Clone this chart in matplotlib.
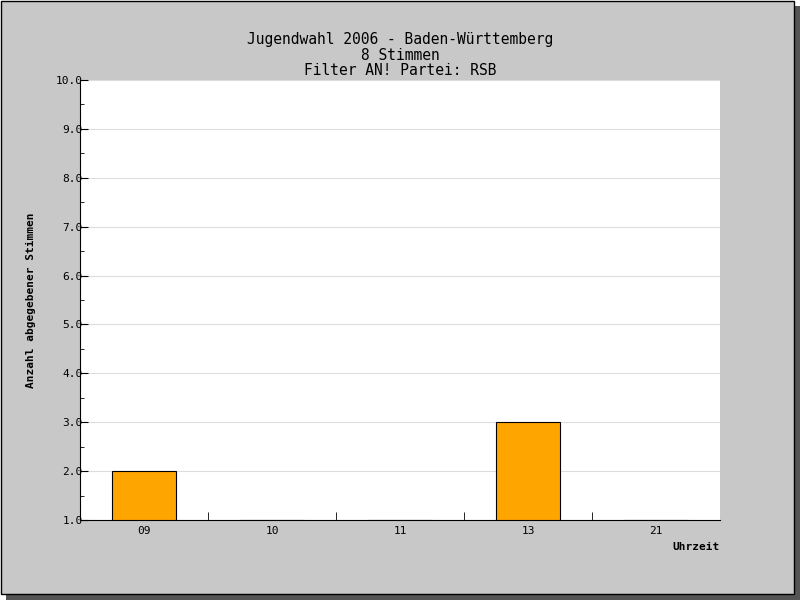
import matplotlib
matplotlib.use("Agg")
import matplotlib.pyplot as plt
from matplotlib.patches import Rectangle

hours = ["09", "10", "11", "13", "21"]
votes = [2, 1, 1, 3, 1]
y_ticks = [1.0, 2.0, 3.0, 4.0, 5.0, 6.0, 7.0, 8.0, 9.0, 10.0]

plt.rcParams["font.family"] = ["DejaVu Sans Mono"]
fig = plt.figure(figsize=(8, 6), dpi=100)
fig.patch.set_facecolor("white")

# frame with shadow
fig.patches.append(Rectangle((6 / 800, 0), 794 / 800, 594 / 600, transform=fig.transFigure,
                             facecolor="#555555", edgecolor="none", zorder=-3))
fig.patches.append(Rectangle((0.5 / 800, 6 / 600), 793 / 800, 593 / 600, transform=fig.transFigure,
                             facecolor="#c8c8c8", edgecolor="black", linewidth=1, zorder=-2))

ax = fig.add_axes([80 / 800, 80 / 600, 640 / 800, 440 / 600])
ax.set_facecolor("white")
x = list(range(len(hours)))
ax.bar(x, [v - 1 for v in votes], bottom=1, width=0.5, color="#ffa500",
       edgecolor="black", linewidth=0.8, zorder=3)
ax.set_xlim(-0.5, len(hours) - 0.5)
ax.set_ylim(1.0, 10.0)
ax.set_yticks(y_ticks)
ax.set_yticklabels([f"{t:.1f}" for t in y_ticks], fontsize=8)
ax.set_yticks([t + 0.5 for t in y_ticks[:-1]], minor=True)
ax.grid(axis="y", color="#dddddd", linewidth=0.8, zorder=0)
ax.set_xticks(x)
ax.set_xticklabels(hours, fontsize=8)
ax.set_xticks([i + 0.5 for i in x[:-1]], minor=True)
ax.tick_params(axis="x", which="major", length=0, pad=4)
ax.tick_params(axis="x", which="minor", direction="in", length=6)
ax.tick_params(axis="y", which="major", direction="in", length=6, pad=-2)
ax.tick_params(axis="y", which="minor", direction="in", length=3)
for lbl in ax.get_yticklabels():
    lbl.set_horizontalalignment("right")
for s in ["top", "right"]:
    ax.spines[s].set_visible(False)
ax.set_ylabel("Anzahl abgegebener Stimmen", fontsize=8, fontweight="bold", labelpad=14)
ax.text(1.0, -0.05, "Uhrzeit", transform=ax.transAxes, ha="right", va="top",
        fontsize=8, fontweight="bold")

fig.text(0.5, 568 / 600, "Jugendwahl 2006 - Baden-Württemberg\n8 Stimmen\nFilter AN! Partei: RSB",
         ha="center", va="top", fontsize=10.5, linespacing=1.05)

fig.savefig("out.png", dpi=100)
